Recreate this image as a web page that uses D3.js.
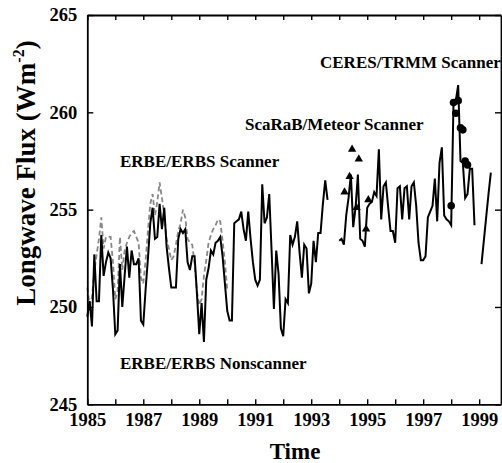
<!DOCTYPE html>
<html lang="en">
<head>
<meta charset="UTF-8">
<title>Longwave Flux</title>
<script src="https://d3js.org/d3.v7.min.js"></script>
<style>
    body { margin: 0; background: white; }
    svg { display: block; }
    .tick text, .label { font-family: "Liberation Serif", "Times New Roman", serif; font-weight: bold; fill: black; }
</style>
</head>
<body>
<div id="chart"></div>
<script>
// monthly values, first entry = Jan 1985, null = no data
const startYear = 1985;
const nonscannerFlux = [
    249.5, 250.3, 249.0, 252.7, 250.3, 250.3, 253.7, 251.6, 252.3, 252.8,
    252.5, 250.9, 248.6, 248.8, 252.2, 250.0, 251.6, 253.1, 251.5, 252.9,
    252.2, 252.2, 252.5, 249.3, 249.1, 250.9, 252.5, 254.3, 255.1, 253.5,
    253.6, 255.3, 254.0, 255.1, 253.1, 252.0, 251.0, 251.0, 251.0, 253.5,
    254.0, 253.8, 254.0, 252.3, 251.9, 252.6, 252.6, 250.7, 248.6, 250.2,
    248.2, 251.4, 252.0, 252.9, 252.7, 253.3, 253.4, 253.6, 252.6, 251.2,
    249.8, 249.3, 249.3, 254.3, 254.4, 254.5, 254.9, 254.0, 253.4, 254.9,
    253.5, 252.3, 251.4, 251.1, 251.4, 256.3, 254.3, 254.6, 255.8, 252.9,
    249.9, 252.9, 251.7, 248.9, 248.5, 250.4, 250.2, 253.7, 253.2, 253.6,
    254.4, 252.8, 251.5, 253.2, 253.0, 250.7, 251.2, 253.4, 252.3, 253.8,
    253.8, 255.3, 256.5, 255.5,
    null, null, null, null,
    253.4, 253.5, 253.2, 254.7, 255.6, 256.8, 254.1, 255.1, 256.8, 253.5,
    253.4, 253.1, 255.1, 255.3, 255.4, 255.9, 255.7, 258.1, 254.5, 256.2,
    256.4, 255.1, 253.9, 253.9, 253.3, 256.1, 256.2, 254.5, 256.1, 256.2,
    254.5, 256.2, 256.4, 255.2, 253.3, 252.4, 252.4, 252.6, 254.6, 254.9,
    255.2, 256.6, 254.4, 257.4, 258.2, 254.7, 254.5, 254.4, 254.2, 260.5,
    260.6, 261.4, 257.5, 257.4, 255.6, 255.8, 257.1, 257.1, 254.2,
    null, null,
    252.2, 253.4, 254.6, 255.8, 256.9
];

// ERBE/ERBS scanner, Jan 1985 - Jan 1990
const scannerFlux = [
    251.0, 250.1, 250.5, 251.8, 252.7, 253.5, 254.6, 253.0, 253.6, 253.6,
    253.6, 252.3, 250.4, 250.8, 253.6, 251.9, 252.9, 253.3, 253.6, 253.8,
    253.9, 253.6, 253.3, 251.5, 251.2, 252.4, 253.9, 255.3, 255.8, 254.7,
    255.4, 256.4, 255.6, 254.7, 253.5, 253.0, 252.4, 252.6, 253.2, 253.9,
    254.3, 255.0, 254.6, 253.5, 253.3, 253.2, 252.2, 250.8, 250.1, 250.4,
    251.6, 252.4, 253.3, 253.7, 254.0, 254.2, 254.5, 254.4, 253.4, 252.3,
    250.9
];

// ScaRaB/Meteor, mid-month times
const scarabTime = [1994.19, 1994.37, 1994.46, 1994.62, 1994.70, 1994.96, 1995.04];
const scarabFlux = [255.9, 256.7, 258.1, 255.1, 257.6, 254.0, 255.5];

// CERES/TRMM, Jan - Aug 1998
const ceresStart = 1998;
const ceresFlux = [255.2, 260.5, 259.95, 260.6, 259.2, 259.1, 257.5, 257.3];

const yearTicks = d3.range(1985, 2000);
const fluxTicks = [245, 250, 255, 260, 265];

const width = 502, height = 463;
const svg = d3.select('#chart').append('svg')
    .attr('width', width)
    .attr('height', height);

const x = d3.scaleLinear().domain([1985, 1999.78]).range([87.3, 501]);
const y = d3.scaleLinear().domain([245, 265]).range([404.3, 15]);

const monthly = (arr, t0) => arr.map((v, i) => ({ t: t0 + i / 12, v: v }));

const line = d3.line()
    .defined(d => d.v != null)
    .x(d => x(d.t))
    .y(d => y(d.v));

// scanner (dashed grey)
svg.append('path')
    .datum(monthly(scannerFlux, startYear))
    .attr('fill', 'none')
    .attr('stroke', '#888')
    .attr('stroke-width', 1.8)
    .attr('stroke-dasharray', '5,3')
    .attr('d', line);

// nonscanner (solid black)
svg.append('path')
    .datum(monthly(nonscannerFlux, startYear))
    .attr('fill', 'none')
    .attr('stroke', 'black')
    .attr('stroke-width', 2)
    .attr('d', line);

// ScaRaB triangles
svg.append('g').selectAll('path')
    .data(scarabTime.map((t, i) => ({ t: t, v: scarabFlux[i] })))
    .join('path')
    .attr('transform', d => `translate(${x(d.t)},${y(d.v)})`)
    .attr('d', d3.symbol(d3.symbolTriangle, 30))
    .attr('fill', 'black');

// CERES circles
svg.append('g').selectAll('circle')
    .data(monthly(ceresFlux, ceresStart))
    .join('circle')
    .attr('cx', d => x(d.t))
    .attr('cy', d => y(d.v))
    .attr('r', 3.8)
    .attr('fill', 'black');

// axes / frame
function styleAxis(g) {
    g.select('.domain').attr('stroke-width', 1.8);
    g.selectAll('.tick line').attr('stroke-width', 1.4);
    g.selectAll('.tick text').attr('font-size', 18.5).attr('font-family', null);
    g.attr('font-family', null).attr('font-size', null);
}

svg.append('g')
    .attr('transform', `translate(0,${y(245)})`)
    .call(d3.axisBottom(x).tickValues(yearTicks).tickSizeInner(-5).tickSizeOuter(0)
        .tickPadding(9).tickFormat(d => d % 2 ? d : ''))
    .call(styleAxis);

svg.append('g')
    .attr('transform', `translate(0,${y(265)})`)
    .call(d3.axisTop(x).tickValues(yearTicks).tickSizeInner(-5).tickSizeOuter(0).tickFormat(''))
    .call(styleAxis);

svg.append('g')
    .attr('transform', `translate(${x.range()[0]},0)`)
    .call(d3.axisLeft(y).tickValues(fluxTicks).tickSizeInner(-6).tickSizeOuter(0).tickPadding(10))
    .call(styleAxis);

svg.append('g')
    .attr('transform', `translate(${x.range()[1]},0)`)
    .call(d3.axisRight(y).tickValues(fluxTicks).tickSizeInner(-6).tickSizeOuter(0).tickFormat(''))
    .call(styleAxis);

// titles
svg.append('text')
    .attr('class', 'label')
    .attr('x', 295)
    .attr('y', 459)
    .attr('text-anchor', 'middle')
    .attr('font-size', 23)
    .text('Time');

const yt = svg.append('text')
    .attr('class', 'label')
    .attr('transform', 'translate(35,173) rotate(-90)')
    .attr('text-anchor', 'middle')
    .attr('font-size', 27);
yt.append('tspan').text('Longwave Flux (Wm');
yt.append('tspan').attr('font-size', 16).attr('dy', -11).text('-2');
yt.append('tspan').attr('dy', 11).text(')');

// series labels
const notes = [
    { text: 'CERES/TRMM Scanner', x: 320, y: 68 },
    { text: 'ScaRaB/Meteor Scanner', x: 245, y: 130 },
    { text: 'ERBE/ERBS Scanner', x: 120, y: 167 },
    { text: 'ERBE/ERBS Nonscanner', x: 120, y: 369 }
];
svg.append('g').selectAll('text')
    .data(notes)
    .join('text')
    .attr('class', 'label')
    .attr('x', d => d.x)
    .attr('y', d => d.y)
    .attr('font-size', 17)
    .text(d => d.text);
</script>
</body>
</html>
